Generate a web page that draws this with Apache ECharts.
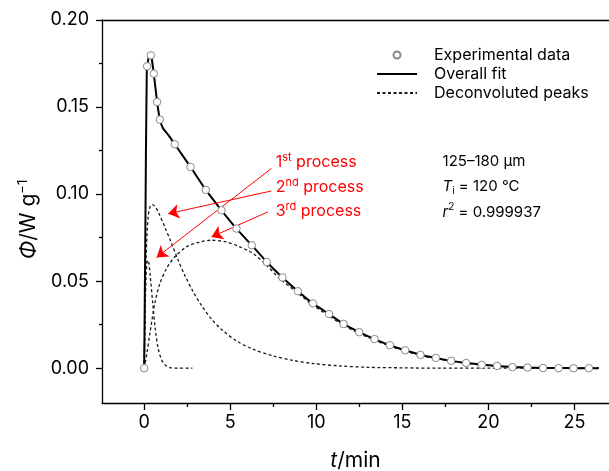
<!DOCTYPE html>
<html><head><meta charset="utf-8">
<script src="https://cdn.jsdelivr.net/npm/echarts@6/dist/echarts.min.js"></script>
<style>html,body{margin:0;padding:0;background:#fff}#c{width:609px;height:471px}</style>
</head><body><div id="c"></div>
<script>
// ---- data ----
const expT   = [0,0.17,0.39,0.56,0.75,0.91,1.78,2.69,3.58,4.49,5.36,6.25,7.12,8.03,8.93,9.80,10.74,11.58,12.49,13.38,14.27,15.16,16.05,16.94,17.83,18.70,19.61,20.50,21.39,22.27,23.17,24.07,24.94,25.83];
const expPhi = [0,0.1734,0.1797,0.1692,0.1529,0.1428,0.1286,0.1156,0.1024,0.0907,0.0802,0.0706,0.0610,0.0521,0.0442,0.0372,0.0311,0.0254,0.0207,0.0167,0.0132,0.0103,0.0076,0.0059,0.0042,0.0030,0.0019,0.0013,0.0006,0.0004,0.0001,0,0,0];

const fitT   = [0,0.07,0.15,0.3,0.4,0.56,0.75,0.91,1.1,1.4,1.78,2.69,3.58,4.49,5.36,6.25,7.12,8.03,8.93,9.80,10.74,11.58,12.49,13.38,14.27,15.16,16.05,16.94,17.83,18.70,19.61,20.50,21.39,22.27,23.17,24.07,24.94,25.83,26.4];
const fitPhi = [0,0.08,0.17,0.1805,0.180,0.169,0.153,0.143,0.1377,0.134,0.1286,0.1156,0.1024,0.0907,0.0802,0.0706,0.0610,0.0521,0.0442,0.0372,0.0311,0.0254,0.0207,0.0167,0.0132,0.0103,0.0077,0.0058,0.0042,0.0030,0.0020,0.0013,0.0007,0.0004,0.0002,0.0001,0,0,0];

const p1T   = [0,0.05,0.1,0.17,0.23,0.35,0.5,0.65,0.8,1.0,1.2,1.5,2.0,2.8];
const p1Phi = [0,0.03,0.052,0.061,0.062,0.053,0.037,0.022,0.012,0.005,0.002,0.0003,0,0];

const p2T   = [0,0.05,0.12,0.23,0.35,0.47,0.62,0.81,1.2,1.59,1.97,2.36,2.84,3.33,3.91,4.58,5.36,6.32,7.48,8.64,9.8,11.35,13,15,17,20,26.4];
const p2Phi = [0,0.03,0.065,0.087,0.093,0.094,0.093,0.0898,0.0811,0.0716,0.0622,0.0533,0.0440,0.0360,0.0282,0.0215,0.0157,0.0109,0.0071,0.0045,0.0027,0.0013,0.0005,0.0002,0,0,0];

const p3T   = [0,0.15,0.33,0.62,0.91,1.3,1.78,2.46,3.23,3.91,4.78,5.55,6.32,7.1,7.87,8.84,9.8,10.74,11.58,12.49,13.38,14.27,15.16,16.05,16.94,17.83,18.7,19.61,20.5,21.39,22.27,23.17,24.5,26.4];
const p3Phi = [0,0.008,0.0199,0.0372,0.0486,0.0573,0.064,0.0697,0.0725,0.0735,0.0725,0.0697,0.0659,0.0592,0.0515,0.0438,0.0362,0.0300,0.0246,0.0200,0.0161,0.0127,0.0099,0.0073,0.0056,0.0040,0.0029,0.0018,0.0012,0.0005,0.0003,0,0,0];

const xMajor = [0,5,10,15,20,25];
const xMinor = [2.5,7.5,12.5,17.5,22.5];
const yMajor = [0,0.05,0.10,0.15,0.20];
const yMinor = [0.025,0.075,0.125,0.175];

const legendNames = ['Experimental data','Overall fit','Deconvoluted peaks'];

// annotation anchors in data space (t, Phi)
const processLabels = ['{n|1}{s|st}{n| process}','{n|2}{s|nd}{n| process}','{n|3}{s|rd}{n| process}'];
const processAnchor = [[7.64,0.1183],[7.64,0.1037],[7.64,0.0902]];
const arrowFrom = [[7.39,0.1147],[7.39,0.1018],[7.19,0.0898]];
const arrowTo   = [[0.72,0.0636],[1.39,0.0887],[3.91,0.0754]];
const infoLabels = ['{n|125–180 μm}','{i|T}{b|i}{n| = 120 °C}','{i|r}{s|2}{n| = 0.999937}'];
const infoAnchor = [[17.33,0.1189],[17.33,0.1045],[17.33,0.0896]];

// ---- chart ----
const FONT = 'Inter, "DejaVu Sans", sans-serif';
const zip = (a,b) => a.map((v,i)=>[v,b[i]]);
const chart = echarts.init(document.getElementById('c'), null, {renderer:'canvas'});
const dashStyle = {color:'#1a1a1a', width:1.3, type:[3,2.5]};
const xBase = {type:'value', min:-2.45, max:27, splitLine:{show:false}};
const yBase = {type:'value', min:-0.02, max:0.2, splitLine:{show:false}};
const hideSym = {opacity:0, color:'rgba(0,0,0,0)', borderColor:'rgba(0,0,0,0)', borderWidth:0};

const option = {
  animation:false,
  textStyle:{fontFamily:FONT},
  grid:{left:102, right:0, top:20, bottom:68, containLabel:false, outerBoundsMode:'none'},
  legend:{
    orient:'vertical', left:371, top:42, itemWidth:40, itemHeight:7, itemGap:3,
    textStyle:{fontSize:16, color:'#000', fontFamily:FONT, padding:[0,0,0,12]},
    data:[
      {name:legendNames[0], icon:'circle'},
      {name:legendNames[1], itemStyle:hideSym},
      {name:legendNames[2], itemStyle:hideSym}
    ]
  },
  xAxis:[
    Object.assign({}, xBase, {position:'bottom',
      axisLine:{show:true, onZero:false, lineStyle:{color:'#000', width:1.3}},
      axisTick:{show:true, customValues:xMajor, length:7, lineStyle:{color:'#000', width:1.3}},
      axisLabel:{show:true, customValues:xMajor, fontSize:18, color:'#000', margin:11, fontFamily:FONT},
      name:'{i|t}{n|/min}', nameLocation:'middle', nameGap:47,
      nameTextStyle:{rich:{i:{fontSize:21, fontStyle:'italic', fontFamily:FONT, color:'#000'}, n:{fontSize:21, fontFamily:FONT, color:'#000'}}}
    }),
    Object.assign({}, xBase, {position:'bottom',
      axisLine:{show:false, onZero:false},
      axisTick:{show:true, customValues:xMinor, length:4, lineStyle:{color:'#000', width:1.3}},
      axisLabel:{show:false}
    }),
    Object.assign({}, xBase, {position:'top',
      axisLine:{show:true, onZero:false, lineStyle:{color:'#000', width:1.3}},
      axisTick:{show:false}, axisLabel:{show:false}
    })
  ],
  yAxis:[
    Object.assign({}, yBase, {position:'left',
      axisLine:{show:true, onZero:false, lineStyle:{color:'#000', width:1.3}},
      axisTick:{show:true, customValues:yMajor, length:6, lineStyle:{color:'#000', width:1.3}},
      axisLabel:{show:true, customValues:yMajor, formatter:v=>v.toFixed(2), fontSize:18, color:'#000', margin:13, fontFamily:FONT},
      name:'{i|Φ}{n|/W g}{s|−1}', nameLocation:'middle', nameGap:56,
      nameTextStyle:{padding:[0,16,0,0], rich:{
        i:{fontSize:21, fontStyle:'italic', fontFamily:FONT, color:'#000', lineHeight:26},
        n:{fontSize:21, fontFamily:FONT, color:'#000', lineHeight:26},
        s:{fontSize:13, fontFamily:FONT, color:'#000', verticalAlign:'top', lineHeight:26}
      }}
    }),
    Object.assign({}, yBase, {position:'left',
      axisLine:{show:false, onZero:false},
      axisTick:{show:true, customValues:yMinor, length:3, lineStyle:{color:'#000', width:1.3}},
      axisLabel:{show:false}
    })
  ],
  series:[
    {name:legendNames[2], type:'line', data:zip(p1T,p1Phi), symbol:'none', smooth:0.3, lineStyle:dashStyle, itemStyle:{color:'#1a1a1a'}, z:2},
    {name:legendNames[2], type:'line', data:zip(p2T,p2Phi), symbol:'none', smooth:0.3, lineStyle:dashStyle, itemStyle:{color:'#1a1a1a'}, z:2},
    {name:legendNames[2], type:'line', data:zip(p3T,p3Phi), symbol:'none', smooth:0.3, lineStyle:dashStyle, itemStyle:{color:'#1a1a1a'}, z:2},
    {name:legendNames[1], type:'line', data:zip(fitT,fitPhi), symbol:'none', smooth:0.15, lineStyle:{color:'#000', width:2}, itemStyle:{color:'#000'}, z:3},
    {name:legendNames[0], type:'scatter', data:zip(expT,expPhi), symbol:'circle', symbolSize:7.5,
      itemStyle:{color:'#fff', borderColor:'#888', borderWidth:1, opacity:1}, z:5,
      markLine:{silent:true, symbol:['none','arrow'], symbolSize:11, animation:false,
        lineStyle:{color:'#ff0000', width:1, type:'solid'}, label:{show:false}, emphasis:{disabled:true},
        data: arrowFrom.map((f,i)=>[{coord:f},{coord:arrowTo[i]}])
      }
    }
  ]
};
chart.setOption(option);

function placeTexts(){
  const g = [];
  const redRich = {n:{fontSize:16, fill:'#ff0000', fontFamily:FONT, lineHeight:20}, s:{fontSize:11, fill:'#ff0000', fontFamily:FONT, verticalAlign:'top', lineHeight:20}};
  processLabels.forEach((t,i)=>{
    const p = chart.convertToPixel({xAxisIndex:0, yAxisIndex:0}, processAnchor[i]);
    g.push({type:'text', x:p[0], y:p[1], style:{text:t, rich:redRich, textAlign:'left', textVerticalAlign:'middle'}, z:10});
  });
  const blackRich = {n:{fontSize:15, fill:'#000', fontFamily:FONT, lineHeight:20},
    i:{fontSize:15, fill:'#000', fontFamily:FONT, fontStyle:'italic', lineHeight:20},
    s:{fontSize:10, fill:'#000', fontFamily:FONT, verticalAlign:'top', lineHeight:20},
    b:{fontSize:10, fill:'#000', fontFamily:FONT, verticalAlign:'bottom', lineHeight:20}};
  infoLabels.forEach((t,i)=>{
    const p = chart.convertToPixel({xAxisIndex:0, yAxisIndex:0}, infoAnchor[i]);
    g.push({type:'text', x:p[0], y:p[1], style:{text:t, rich:blackRich, textAlign:'left', textVerticalAlign:'middle'}, z:10});
  });
  chart.setOption({graphic:g});
}
placeTexts();
</script>
</body></html>
